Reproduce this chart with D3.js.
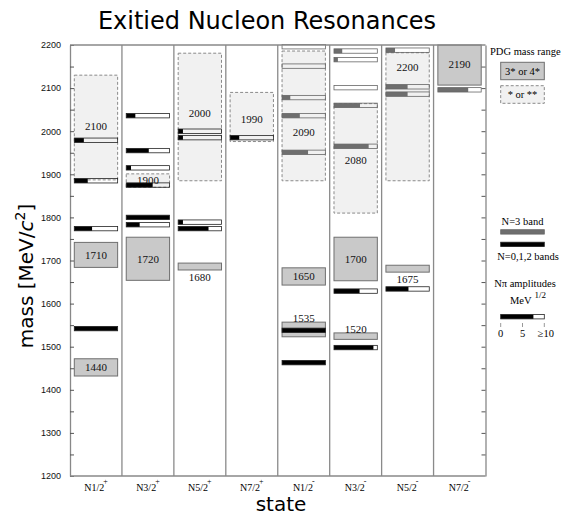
<!DOCTYPE html>
<html>

<head>
    <meta charset="utf-8">
    <style>
        body {
            margin: 0;
            background: white;
        }

        svg {
            display: block;
        }

        .serif {
            font-family: 'Liberation Serif', 'Times New Roman', serif;
        }
    </style>
</head>

<body>
    <svg width="561" height="516"></svg>

    <script src="https://d3js.org/d3.v7.min.js"></script>
    <script>
        // spin-parity columns
        let states = ["N1/2+", "N3/2+", "N5/2+", "N7/2+", "N1/2-", "N3/2-", "N5/2-", "N7/2-"]
        let stateNames = ["N1/2", "N3/2", "N5/2", "N7/2", "N1/2", "N3/2", "N5/2", "N7/2"]
        let stateParity = ["+", "+", "+", "+", "-", "-", "-", "-"]

        // PDG mass ranges: column, low, high, rating, label, where the label sits (mass)
        let pdgCol = [0, 0, 0, 1, 1, 2, 2, 3, 4, 4, 4, 5, 5, 5, 6, 6, 7]
        let pdgLow = [1432, 1684, 1887, 1654, 1870, 1678, 1885, 1976, 1523, 1643, 1885, 1517, 1653, 1810, 1673, 1885, 2107]
        let pdgHigh = [1472, 1742, 2130, 1754, 1901, 1694, 2181, 2090, 1557, 1683, 2186, 1532, 1754, 2064, 1689, 2182, 2200]
        let pdgStars = [4, 4, 2, 4, 2, 4, 2, 2, 4, 4, 2, 4, 4, 2, 4, 2, 3]
        let pdgLabel = ["1440", "1710", "2100", "1720", "1900", "1680", "2000", "1990", "1535", "1650", "2090", "1520", "1700", "2080", "1675", "2200", "2190"]
        let pdgLabelMass = [1452, 1713, 2012, 1704, 1886, 1661, 2043, 2028, 1567, 1663, 1997, 1540, 1704, 1933, 1656, 2148, 2155]

        // model states: column, mass, N-pi amplitude (0..10), band
        let modCol = [0, 0, 0, 0,
            1, 1, 1, 1, 1, 1,
            2, 2, 2, 2,
            3,
            4, 4, 4, 4, 4, 4, 4,
            5, 5, 5, 5, 5, 5, 5,
            6, 6, 6, 6,
            7]
        let modMass = [1979, 1885, 1774, 1542,
            2036, 1955, 1915, 1875, 1800, 1783,
            2000, 1985, 1789, 1774,
            1985,
            2196, 2151, 2078, 2036, 1951, 1538, 1463,
            2186, 2166, 2101, 2060, 1965, 1629, 1498,
            2188, 2103, 2086, 1634,
            2096]
        let modAmp = [2.2, 3.1, 4.1, 10,
            2.1, 5.2, 1.1, 6.1, 10, 3.1,
            1.1, 1.1, 1.1, 7.0,
            2.1,
            0, 0, 1.9, 4.1, 6.0, 10, 10,
            1.9, 0.9, 0, 6.0, 8.0, 5.9, 9.1,
            2.1, 5.0, 5.0, 5.2,
            7.0]
        let modBand = ["012", "012", "012", "012",
            "012", "012", "012", "012", "012", "012",
            "012", "012", "012", "012",
            "012",
            "3", "3", "3", "3", "3", "012", "012",
            "3", "3", "3", "3", "3", "012", "012",
            "3", "3", "3", "012",
            "3"]

        let massTicks = d3.range(1200, 2201, 100)
        let minorTicks = d3.range(1250, 2200, 100)
        let ampTicks = ["0", "5", "\u226510"]

        let svg = d3.select("svg")

        let pLeft = 70, pRight = 485.5, pTop = 45, pBottom = 476
        let y = d3.scaleLinear().domain([1200, 2200]).range([pBottom, pTop])
        let x = d3.scaleBand().domain(states).range([pLeft, pRight])
        let inset = 4.3
        let bw = x.bandwidth() - 2 * inset
        let barH = 4.4

        let pdg = pdgCol.map((c, i) => ({
            col: c, lo: pdgLow[i], hi: pdgHigh[i], stars: pdgStars[i],
            label: pdgLabel[i], lm: pdgLabelMass[i]
        }))
        let model = modCol.map((c, i) => ({
            col: c, mass: modMass[i], amp: modAmp[i], band: modBand[i]
        }))

        let bandColor = { "012": "#000", "3": "#6e6e6e" }
        let bandStroke = { "012": "#222", "3": "#666" }

        // title and axis titles
        svg.append("text")
            .attr("x", 267).attr("y", 29)
            .attr("text-anchor", "middle")
            .style("font-family", "DejaVu Sans")
            .style("font-size", "24px")
            .text("Exitied Nucleon Resonances")

        svg.append("text")
            .attr("x", 281).attr("y", 511)
            .attr("text-anchor", "middle")
            .style("font-family", "DejaVu Sans")
            .style("font-size", "20px")
            .text("state")

        let ylab = svg.append("text")
            .attr("transform", "translate(33,276) rotate(-90)")
            .attr("text-anchor", "middle")
            .style("font-family", "DejaVu Sans")
            .style("font-size", "20px")
        ylab.append("tspan").text("mass [MeV/")
        ylab.append("tspan").style("font-style", "italic").text("c")
        ylab.append("tspan").attr("dy", -8).style("font-size", "14px").text("2")
        ylab.append("tspan").attr("dy", 8).text("]")

        // PDG boxes
        svg.selectAll(".pdg")
            .data(pdg)
            .join("rect")
            .attr("class", "pdg")
            .attr("x", d => x(states[d.col]) + inset)
            .attr("y", d => y(d.hi))
            .attr("width", bw)
            .attr("height", d => y(d.lo) - y(d.hi))
            .style("fill", d => d.stars >= 3 ? "#c9c9c9" : "#f1f1f1")
            .style("stroke", d => d.stars >= 3 ? "#6f6f6f" : "#8a8a8a")
            .style("stroke-width", 1)
            .style("stroke-dasharray", d => d.stars >= 3 ? null : "3,2")

        svg.selectAll(".pdglab")
            .data(pdg)
            .join("text")
            .attr("class", "pdglab serif")
            .attr("x", d => x(states[d.col]) + x.bandwidth() / 2)
            .attr("y", d => y(d.lm) + 4)
            .attr("text-anchor", "middle")
            .style("font-size", "11px")
            .style("fill", "#111")
            .text(d => d.label)

        // model bars
        let bars = svg.selectAll(".bar")
            .data(model)
            .join("g")
            .attr("class", "bar")
            .attr("transform", d => `translate(${x(states[d.col]) + inset},${y(d.mass) - barH / 2})`)

        bars.append("rect")
            .attr("width", d => bw * d.amp / 10)
            .attr("height", barH)
            .style("fill", d => bandColor[d.band])

        bars.append("rect")
            .attr("width", bw)
            .attr("height", barH)
            .style("fill", "none")
            .style("stroke", d => bandStroke[d.band])
            .style("stroke-width", 0.8)

        // axes
        svg.append("g")
            .attr("transform", `translate(${pLeft},0)`)
            .call(d3.axisLeft(y).tickValues(massTicks).tickFormat(d3.format("d"))
                .tickSizeInner(-4).tickSizeOuter(0).tickPadding(9))
            .call(g => g.select(".domain").style("stroke", "#888").style("stroke-width", 1.3))
            .call(g => g.selectAll(".tick line").style("stroke", "#555"))
            .call(g => g.selectAll("text")
                .style("font-family", "Liberation Sans")
                .style("font-size", "9px")
                .style("fill", "#111"))

        svg.append("g")
            .attr("transform", `translate(${pLeft},0)`)
            .call(d3.axisLeft(y).tickValues(minorTicks).tickSizeInner(-4).tickSizeOuter(0).tickFormat(""))
            .call(g => g.select(".domain").remove())
            .call(g => g.selectAll(".tick line").style("stroke", "#555"))

        svg.append("g")
            .attr("transform", `translate(${pRight},0)`)
            .call(d3.axisRight(y).tickValues(d3.range(1250, 2200, 50)).tickSizeInner(-4).tickSizeOuter(0).tickFormat(""))
            .call(g => g.select(".domain").style("stroke", "#888").style("stroke-width", 1.3))
            .call(g => g.selectAll(".tick line").style("stroke", "#555"))

        // frame lines and column dividers
        svg.selectAll(".hframe")
            .data([pTop, pBottom])
            .join("line")
            .attr("class", "hframe")
            .attr("x1", pLeft).attr("x2", pRight)
            .attr("y1", d => d).attr("y2", d => d)
            .style("stroke", "#888")
            .style("stroke-width", 1.3)

        svg.selectAll(".divider")
            .data(states.slice(1))
            .join("line")
            .attr("class", "divider")
            .attr("x1", d => x(d)).attr("x2", d => x(d))
            .attr("y1", pTop).attr("y2", pBottom)
            .style("stroke", "#8a8a8a")
            .style("stroke-width", 1.3)

        // category labels
        let cat = svg.selectAll(".cat")
            .data(states)
            .join("text")
            .attr("class", "cat serif")
            .attr("x", d => x(d) + x.bandwidth() / 2)
            .attr("y", 491)
            .attr("text-anchor", "middle")
            .style("font-size", "10px")
        cat.append("tspan").text((d, i) => stateNames[i])
        cat.append("tspan").attr("dy", -7).attr("dx", -1).style("font-size", "8px").text((d, i) => stateParity[i])

        // legend
        let lg = svg.append("g").attr("class", "serif").style("font-size", "10.5px")
        let lx = 500.7, lw = 43.6

        lg.append("text").attr("x", 490).attr("y", 55).text("PDG mass range")
        lg.append("rect").attr("x", lx).attr("y", 62.3).attr("width", lw).attr("height", 17.4)
            .style("fill", "#c9c9c9").style("stroke", "#6f6f6f")
        lg.append("text").attr("x", lx + lw / 2).attr("y", 75).attr("text-anchor", "middle").text("3* or 4*")
        lg.append("rect").attr("x", lx).attr("y", 85.7).attr("width", lw).attr("height", 17.6)
            .style("fill", "#f1f1f1").style("stroke", "#8a8a8a").style("stroke-dasharray", "3,2")
        lg.append("text").attr("x", lx + lw / 2).attr("y", 98).attr("text-anchor", "middle").text("* or **")

        lg.append("text").attr("x", lx + lw / 2).attr("y", 225).attr("text-anchor", "middle").text("N=3 band")
        lg.append("rect").attr("x", lx).attr("y", 229.7).attr("width", lw).attr("height", barH)
            .style("fill", bandColor["3"]).style("stroke", bandStroke["3"]).style("stroke-width", 0.8)
        lg.append("rect").attr("x", lx).attr("y", 242.2).attr("width", lw).attr("height", barH)
            .style("fill", bandColor["012"]).style("stroke", bandStroke["012"]).style("stroke-width", 0.8)
        lg.append("text").attr("x", 528).attr("y", 259.5).attr("text-anchor", "middle").text("N=0,1,2 bands")

        lg.append("text").attr("x", 525).attr("y", 287).attr("text-anchor", "middle").text("N\u03c0 amplitudes")
        let mev = lg.append("text").attr("x", 510).attr("y", 304)
        mev.append("tspan").text("MeV")
        mev.append("tspan").attr("dx", 3).attr("dy", -6).style("font-size", "9px").text("1/2")

        let amp = d3.scaleLinear().domain([0, 10]).range([lx, lx + lw])
        lg.append("rect").attr("x", lx).attr("y", 314.5).attr("width", amp(7.5) - lx).attr("height", barH)
            .style("fill", "#000")
        lg.append("rect").attr("x", lx).attr("y", 314.5).attr("width", lw).attr("height", barH)
            .style("fill", "none").style("stroke", "#222").style("stroke-width", 0.8)
        lg.selectAll(".atick")
            .data([0, 5, 10])
            .join("line")
            .attr("class", "atick")
            .attr("x1", d => amp(d)).attr("x2", d => amp(d))
            .attr("y1", 323).attr("y2", 327)
            .style("stroke", "#999")
        lg.selectAll(".alab")
            .data([0, 5, 10])
            .join("text")
            .attr("class", "alab")
            .attr("x", d => amp(d) + (d == 10 ? 1.5 : 0))
            .attr("y", 336.5)
            .attr("text-anchor", "middle")
            .text((d, i) => ampTicks[i])
    </script>
</body>

</html>
